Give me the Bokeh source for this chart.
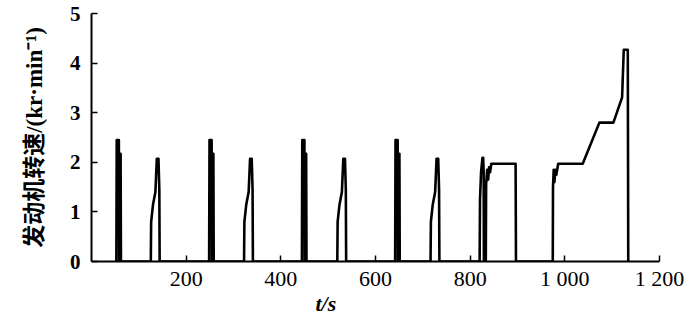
from bokeh.plotting import figure
from bokeh.models import Range1d, FixedTicker, Title
from bokeh.embed import file_html
from bokeh.resources import INLINE

# time in s, engine speed in kr/min
time_s = [
    52.5, 53.3, 57.8, 58.3, 58.8, 61.5, 62.2,
    125.3, 126, 130, 135, 138, 141.5, 143.3, 144,
    248.5, 249.3, 253.8, 254.3, 254.8, 257.5, 258.2,
    322.3, 323, 327, 332, 335, 338.5, 340.3, 341,
    444.5, 445.3, 449.8, 450.3, 450.8, 453.5, 454.2,
    519.3, 520, 524, 529, 532, 535.5, 537.3, 538,
    641.5, 642.3, 646.8, 647.3, 647.8, 650.5, 651.2,
    716.3, 717, 721, 726, 729, 732.5, 734.3, 735,
    820, 820.8, 823, 826, 827.5, 828.5, 829, 833, 833.7, 836, 838, 840, 842, 844.7,
    896, 896.8,
    974.5, 975, 976.5, 978, 980, 982, 986, 1037.8, 1073, 1102.6, 1121, 1124.5,
    1133, 1134,
]
speed_krpm = [
    0, 2.45, 2.45, 0, 2.17, 2.17, 0,
    0, 0.8, 1.15, 1.4, 2.07, 2.07, 1.45, 0,
    0, 2.45, 2.45, 0, 2.17, 2.17, 0,
    0, 0.8, 1.15, 1.4, 2.07, 2.07, 1.45, 0,
    0, 2.45, 2.45, 0, 2.17, 2.17, 0,
    0, 0.8, 1.15, 1.4, 2.07, 2.07, 1.45, 0,
    0, 2.45, 2.45, 0, 2.17, 2.17, 0,
    0, 0.8, 1.15, 1.4, 2.07, 2.07, 1.45, 0,
    0, 1.25, 1.8, 2.09, 2.09, 1.8, 0, 0, 1.55, 1.85, 1.65, 1.9, 1.8, 1.97,
    1.97, 0,
    0, 1.5, 1.85, 1.6, 1.85, 1.75, 1.97, 1.97, 2.80, 2.80, 3.31, 4.27,
    4.27, 0,
]

x_ticks = [200, 400, 600, 800, 1000, 1200]
x_tick_labels = ["200", "400", "600", "800", "1 000", "1 200"]
y_ticks = [0, 1, 2, 3, 4, 5]
y_title = "发动机转速/(kr·min⁻¹)"
x_title = "t/s"

p = figure(width=700, height=314, output_backend="svg", toolbar_location=None,
           x_range=Range1d(0, 1200), y_range=Range1d(0, 5),
           min_border_left=91, min_border_right=41, min_border_top=13,
           min_border_bottom=52)
p.outline_line_color = None
p.grid.visible = False
p.background_fill_color = "white"
p.border_fill_color = "white"

p.line(time_s, speed_krpm, line_color="black", line_width=2.6, line_join="round")

serif = "Liberation Serif"

p.xaxis.ticker = FixedTicker(ticks=x_ticks)
p.xaxis.major_label_overrides = {t: s for t, s in zip(x_ticks, x_tick_labels)}
p.xaxis.major_label_text_font = serif
p.xaxis.major_label_text_font_size = "22px"
p.xaxis.major_label_text_color = "black"
p.xaxis.major_label_standoff = 4

p.yaxis.ticker = FixedTicker(ticks=y_ticks)
p.yaxis.major_label_text_font = serif
p.yaxis.major_label_text_font_size = "21px"
p.yaxis.major_label_text_font_style = "bold"
p.yaxis.major_label_text_color = "black"
p.yaxis.major_label_standoff = 11
p.yaxis.axis_label = y_title
p.yaxis.axis_label_text_font = "Liberation Serif, Noto Sans CJK SC"
p.yaxis.axis_label_text_font_size = "23px"
p.yaxis.axis_label_text_font_style = "bold"
p.yaxis.axis_label_text_color = "black"
p.yaxis.axis_label_standoff = 20

for ax in (p.xaxis, p.yaxis):
    ax.axis_line_color = "black"
    ax.axis_line_width = 2
    ax.major_tick_line_color = "black"
    ax.major_tick_line_width = 1.5
    ax.major_tick_in = 6
    ax.major_tick_out = 0
    ax.minor_tick_in = 0
    ax.minor_tick_out = 0
    ax.minor_tick_line_color = None

p.add_layout(Title(text=x_title, align="left", offset=224, standoff=-6,
                   vertical_align="top",
                   text_font=serif, text_font_size="22px",
                   text_font_style="bold italic", text_color="black"), "below")

open("out.html", "w").write(file_html(p, INLINE))
